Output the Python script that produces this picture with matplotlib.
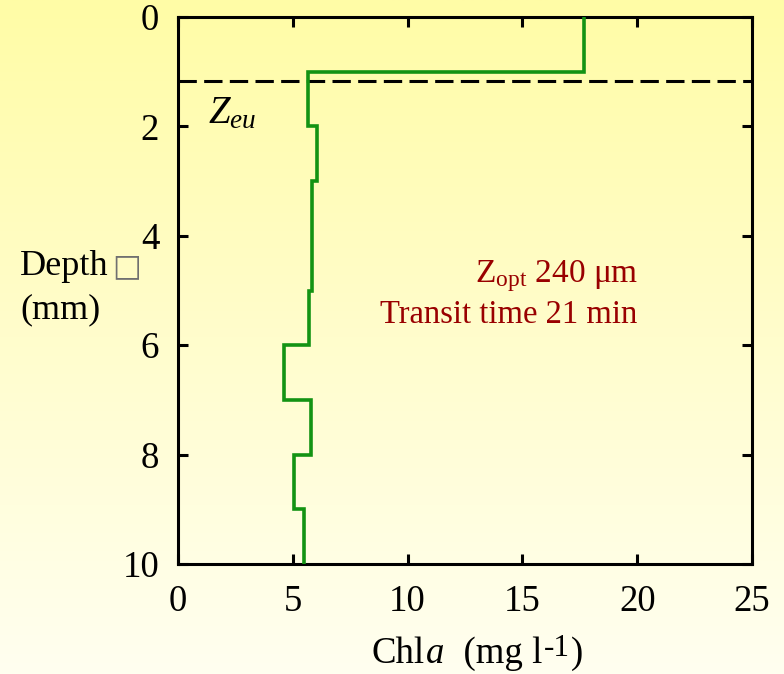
import numpy as np
import matplotlib
matplotlib.use("Agg")
import matplotlib.pyplot as plt
from matplotlib.colors import LinearSegmentedColormap

plt.rcParams["font.family"] = ["Liberation Serif", "DejaVu Serif"]
plt.rcParams["mathtext.fontset"] = "custom"
plt.rcParams["mathtext.rm"] = "Liberation Serif"
plt.rcParams["mathtext.it"] = "Liberation Serif:italic"
plt.rcParams["mathtext.bf"] = "Liberation Serif:bold"

# Chlorophyll a profile: layer boundaries (mm) and concentration in each layer
depth_edges = [0, 1, 2, 3, 5, 6, 7, 8, 9, 10]
chl_values = [17.7, 5.65, 6.05, 5.85, 5.7, 4.6, 5.8, 5.05, 5.5]
z_eu = 1.17  # euphotic depth (mm)

x_ticks = [0, 5, 10, 15, 20, 25]
y_ticks = [0, 2, 4, 6, 8, 10]

W, H, DPI = 784, 674, 100
fig = plt.figure(figsize=(W / DPI, H / DPI), dpi=DPI)

# yellow gradient backdrop
bg = fig.add_axes([0, 0, 1, 1], zorder=-10)
cmap = LinearSegmentedColormap.from_list(
    "bg", ["#fffca6", "#fffdcc", "#fffff0"])
grad = np.linspace(0, 1, 256).reshape(-1, 1)
bg.imshow(grad, cmap=cmap, aspect="auto", extent=[0, 1, 0, 1], origin="upper")
bg.set_axis_off()

left, right, top, bottom = 178 / W, 752 / W, 1 - 17 / H, 1 - 564 / H
ax = fig.add_axes([left, bottom, right - left, top - bottom])
ax.set_facecolor("none")

ax.stairs(chl_values, depth_edges, orientation="horizontal", baseline=None,
          color="#139313", lw=2.6, zorder=3)
ax.axhline(z_eu, color="black", lw=2.2, dashes=(6, 2.4), zorder=2)

ax.set_xlim(0, 25)
ax.set_ylim(10, 0)
ax.set_xticks(x_ticks)
ax.set_yticks(y_ticks)
ax.tick_params(direction="in", length=7.5, width=2.2, top=True, right=True,
               labelsize=26.5, colors="black")
ax.tick_params(axis="x", pad=15)
ax.tick_params(axis="y", pad=13.5)
for sp in ax.spines.values():
    sp.set_linewidth(2.2)

# x-axis title laid out piece by piece so the exponent keeps a plain hyphen
renderer = fig.canvas.get_renderer()
pieces = [("Chl", 26.5, "normal", 0), ("a", 26.5, "italic", 0),
          ("  (mg l", 26.5, "normal", 0), ("-1", 22.5, "normal", 7),
          (")", 26.5, "normal", 0)]
base_px = H - 663
objs, x = [], 0.0
for s, size, style, rise in pieces:
    t = fig.text(0, 0, s, fontsize=size, style=style, va="baseline",
                 ha="left")
    w = t.get_window_extent(renderer).width
    objs.append((t, x, rise))
    x += w + 1
x0 = 478 - x / 2
for t, dx, rise in objs:
    t.set_position(((x0 + dx) / W, (base_px + rise) / H))

fig.text(20 / W, 1 - 275 / H, "Depth", fontsize=26, ha="left",
         va="baseline")
fig.text(112 / W, 1 - 275 / H, "\u25a1", fontsize=22, ha="left",
         va="baseline", color="#707070", family="DejaVu Sans")
fig.text(20 / W, 1 - 318 / H, "(mm)", fontsize=26, ha="left",
         va="baseline")

ax.text(1.3, 1.95, r"$\mathit{Z}_{\mathit{eu}}$", fontsize=28, ha="left",
        va="baseline")

red = "#990000"
ax.text(16.5, 4.85, r"$\mathrm{Z_{opt}}$ 240 μm", fontsize=24, ha="center",
        va="baseline", color=red)
ax.text(14.4, 5.6, "Transit time 21 min", fontsize=23.5, ha="center",
        va="baseline", color=red)

fig.savefig("out.png", dpi=DPI)
